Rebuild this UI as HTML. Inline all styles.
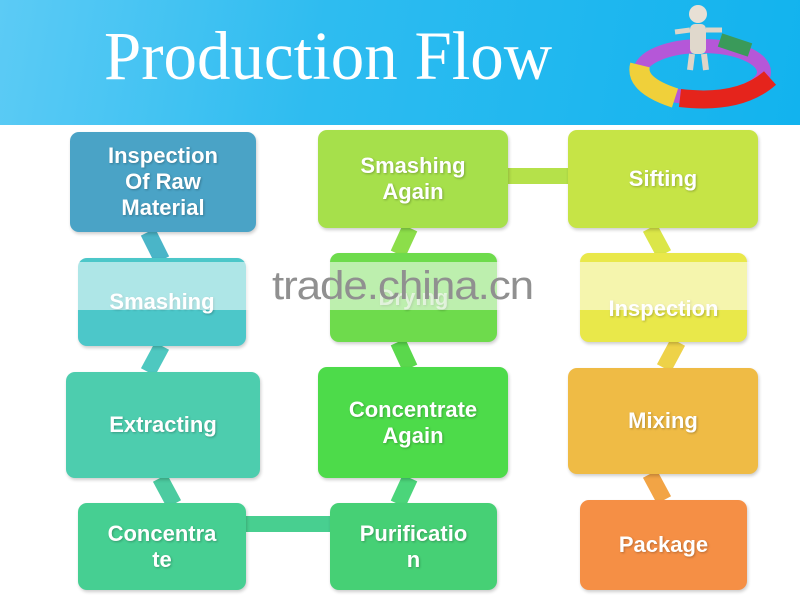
<!DOCTYPE html>
<html><head><style>
body{margin:0;width:800px;height:600px;overflow:hidden;background:#fff;position:relative;font-family:"Liberation Sans",sans-serif}
.hdr{position:absolute;left:0;top:0;width:800px;height:125px;background:linear-gradient(100deg,#5ccbf5 0%,#2ebcf0 40%,#12b3ee 100%)}
.title{position:absolute;left:104px;top:17px;font-family:"Liberation Serif",serif;color:#fff;font-size:69px;transform:scaleX(0.97);transform-origin:left}
.b{position:absolute;border-radius:9px;color:#fff;font-weight:bold;font-size:22px;line-height:26px;display:flex;align-items:center;justify-content:center;text-align:center;box-shadow:1px 2px 3px rgba(0,0,0,.2);text-shadow:1px 1px 2px rgba(0,0,0,.25)}
.wm{position:absolute;left:272px;top:264px;font-size:40px;color:#909090;letter-spacing:-1px;transform:scaleX(1.1);transform-origin:left}
.band{position:absolute;left:70px;top:262px;width:690px;height:48px;background:rgba(255,255,255,.55)}
</style></head><body>
<div class="hdr"></div>
<div class="title">Production Flow</div>
<svg style="position:absolute;left:620px;top:0" width="180" height="125">
<ellipse cx="82" cy="72" rx="62" ry="26" fill="none" stroke="#b557d8" stroke-width="14"/>
<path d="M20 65 Q15 85 55 98" stroke="#f0d03a" stroke-width="20" fill="none"/>
<path d="M60 98 Q120 105 150 78" stroke="#e5241c" stroke-width="18" fill="none"/>
<path d="M130 50 L100 40" stroke="#3a9a5a" stroke-width="14"/>
<circle cx="78" cy="14" r="9" fill="#e8e0d5"/>
<rect x="70" y="24" width="16" height="30" rx="5" fill="#e0d8cc"/>
<path d="M72 54 L70 70 M84 54 L86 70" stroke="#ddd5c8" stroke-width="6"/>
<path d="M70 30 L55 32 M86 30 L102 30" stroke="#ddd5c8" stroke-width="5"/>
</svg>
<svg style="position:absolute;left:0;top:0" width="800" height="600">
<g stroke-width="16" stroke-linecap="butt">
<line x1="148" y1="232" x2="162" y2="260" stroke="#4ab5c8"/>
<line x1="162" y1="346" x2="148" y2="372" stroke="#4ec8c0"/>
<line x1="160" y1="478" x2="174" y2="504" stroke="#4ccba0"/>
<line x1="246" y1="524" x2="330" y2="524" stroke="#48cf90"/>
<line x1="410" y1="478" x2="398" y2="504" stroke="#4bd57a"/>
<line x1="398" y1="342" x2="410" y2="368" stroke="#5ad84c"/>
<line x1="410" y1="228" x2="398" y2="254" stroke="#8cde4a"/>
<line x1="508" y1="176" x2="568" y2="176" stroke="#b5e14a"/>
<line x1="650" y1="228" x2="664" y2="254" stroke="#dbe648"/>
<line x1="678" y1="342" x2="664" y2="368" stroke="#eed248"/>
<line x1="650" y1="474" x2="664" y2="500" stroke="#f2a445"/>
</g></svg>
<div class="b" style="left:70px;top:132px;width:186px;height:100px;background:#4aa3c6">Inspection<br>Of Raw<br>Material</div>
<div class="b" style="left:78px;top:258px;width:168px;height:88px;background:#4cc7c9">Smashing</div>
<div class="b" style="left:66px;top:372px;width:194px;height:106px;background:#4dcdae">Extracting</div>
<div class="b" style="left:78px;top:503px;width:168px;height:87px;background:#46cf92">Concentra<br>te</div>
<div class="b" style="left:318px;top:130px;width:190px;height:98px;background:#a6e04b">Smashing<br>Again</div>
<div class="b" style="left:330px;top:253px;width:167px;height:89px;background:#6edb4c;color:rgba(255,255,255,.6)">Drying</div>
<div class="b" style="left:318px;top:367px;width:190px;height:111px;background:#4ddb4a">Concentrate<br>Again</div>
<div class="b" style="left:330px;top:503px;width:167px;height:87px;background:#46d075">Purificatio<br>n</div>
<div class="b" style="left:568px;top:130px;width:190px;height:98px;background:#c6e446">Sifting</div>
<div class="b" style="left:580px;top:253px;width:167px;height:89px;background:#e9e84a;padding-top:22px;box-sizing:border-box">Inspection</div>
<div class="b" style="left:568px;top:368px;width:190px;height:106px;background:#efbb45">Mixing</div>
<div class="b" style="left:580px;top:500px;width:167px;height:90px;background:#f58f45">Package</div>
<div class="band"></div>
<div class="wm">trade.china.cn</div>
</body></html>
